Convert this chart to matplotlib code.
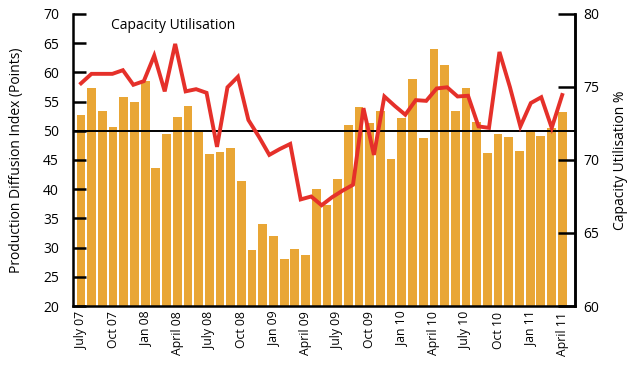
import numpy as np
import matplotlib
matplotlib.use("Agg")
import matplotlib.pyplot as plt

plt.rcParams['font.family'] = ['Open Sans', 'DejaVu Sans']

# monthly production diffusion index, July 07 .. April 11
months = ["July 07", "Aug 07", "Sep 07", "Oct 07", "Nov 07", "Dec 07",
	"Jan 08", "Feb 08", "Mar 08", "April 08", "May 08", "June 08",
	"July 08", "Aug 08", "Sep 08", "Oct 08", "Nov 08", "Dec 08",
	"Jan 09", "Feb 09", "Mar 09", "April 09", "May 09", "June 09",
	"July 09", "Aug 09", "Sep 09", "Oct 09", "Nov 09", "Dec 09",
	"Jan 10", "Feb 10", "Mar 10", "April 10", "May 10", "June 10",
	"July 10", "Aug 10", "Sep 10", "Oct 10", "Nov 10", "Dec 10",
	"Jan 11", "Feb 11", "Mar 11", "April 11"]

production = [52.7, 57.4, 53.4, 50.7, 55.8, 55.0,
	58.6, 43.6, 49.5, 52.4, 54.2, 49.8,
	46.0, 46.4, 47.1, 41.4, 29.6, 34.0,
	32.0, 28.0, 29.8, 28.7, 40.0, 37.3,
	41.7, 51.0, 54.1, 51.3, 53.4, 45.2,
	52.2, 58.9, 48.8, 64.0, 61.3, 53.4,
	57.3, 51.5, 46.2, 49.5, 48.9, 46.5,
	50.1, 49.1, 50.5, 53.2]

# capacity utilisation series (has one more point than the bars, drawn over same span)
capacity = [75.25, 75.9, 75.9, 75.9, 76.15, 75.15, 75.4, 77.15, 74.7, 77.95,
	74.7, 74.85, 74.6, 70.9, 74.98, 75.7, 72.74, 71.6, 70.35, 70.75,
	71.1, 67.3, 67.5, 66.9, 67.45, 67.9, 68.3, 73.55, 70.35, 74.35,
	73.7, 73.1, 74.1, 74.05, 74.9, 74.98, 74.35, 74.4, 72.3, 72.2,
	77.4, 75.0, 72.3, 73.9, 74.3, 72.2, 74.45]

bar_color = "#E9A635"
line_color = "#E5302A"

fig = plt.figure(figsize=(6.31, 3.67), dpi=100)
ax = fig.add_axes([0.1157, 0.1662, 0.7956, 0.7957])

x = np.arange(len(months))
ax.bar(x, production, width=0.82, color=bar_color, zorder=1)
ax.axhline(50, color="black", linewidth=1.4, zorder=2)

ax.set_ylim(20, 70)
ax.set_yticks(np.arange(20, 71, 5))
ax.set_xlim(-0.75, len(months) - 1 + 1.2)
ax.set_xticks(x[::3])
ax.set_xticklabels(months[::3], rotation=90, fontsize=8.8)
ax.tick_params(axis="x", length=0, pad=4)
ax.tick_params(axis="y", direction="in", length=9, width=1.8, labelsize=10, pad=10)
ax.set_ylabel("Production Diffusion Index (Points)", fontsize=10, labelpad=14)

for side in ["left", "bottom", "right"]:
	ax.spines[side].set_linewidth(1.8)
ax.spines["top"].set_visible(False)

# second axis for capacity utilisation
ax2 = ax.twinx()
cx = np.linspace(0, len(months) - 1, len(capacity))
ax2.plot(cx, capacity, color=line_color, linewidth=2.8, solid_joinstyle="miter")
ax2.set_ylim(60, 80)
ax2.set_yticks(np.arange(60, 81, 5))
ax2.tick_params(axis="y", direction="in", length=12, width=1.8, labelsize=10, pad=6)
ax2.set_ylabel("Capacity Utilisation %", fontsize=10, labelpad=10)
ax2.spines["top"].set_visible(False)
ax2.spines["right"].set_linewidth(1.8)
ax2.spines["left"].set_visible(False)
ax2.spines["bottom"].set_visible(False)

ax.text(0.075, 0.985, "Capacity Utilisation", transform=ax.transAxes,
	fontsize=10, va="top", ha="left")

fig.savefig("out.png", dpi=100)
